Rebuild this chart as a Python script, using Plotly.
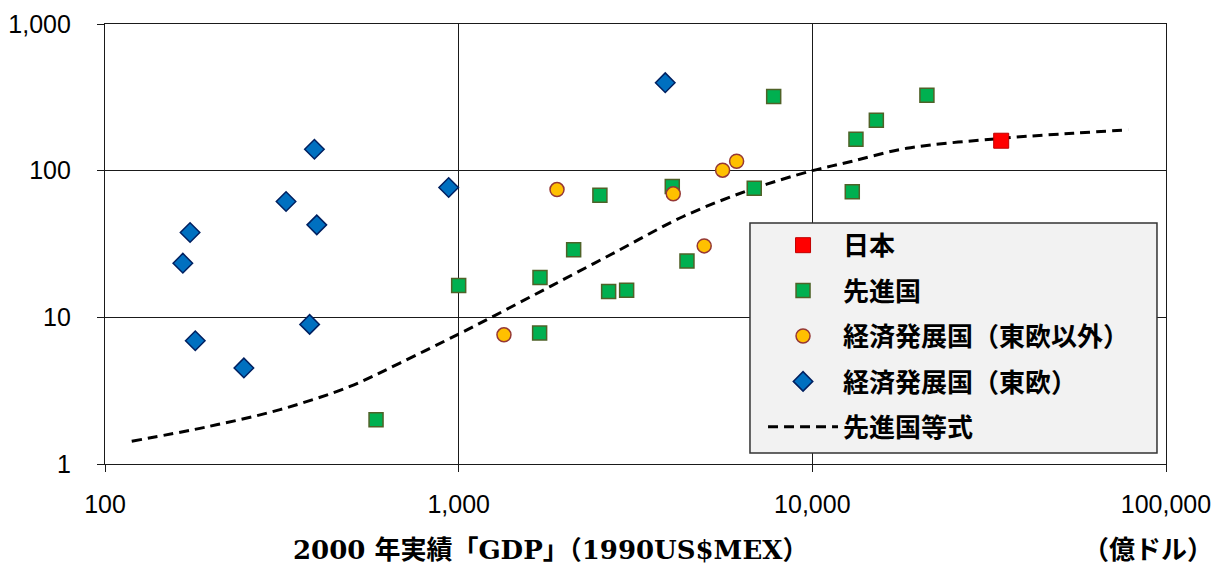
import plotly.graph_objects as go

# ---- data ----
jp_x = [34200]
jp_y = [160]

adv_x = [1000, 584, 7775, 2508, 4018, 6851, 2114, 1698, 4421, 2655, 2985, 1694, 21086, 15170, 13285, 12970]
adv_y = [16.5, 2.0, 320, 68.1, 77.9, 76, 28.9, 18.7, 24.2, 15.0, 15.3, 7.82, 327, 221, 164, 71.7]

dev_x = [1897, 5575, 6108, 4043, 4946, 1343]
dev_y = [74.3, 100.8, 116, 69.5, 30.7, 7.6]

ee_x = [391, 937, 325, 397, 174, 166, 379, 180, 247, 3838]
ee_y = [140, 76.7, 61.6, 42.7, 37.9, 23.4, 8.95, 6.93, 4.52, 398]

curve_x = [119, 193.9, 312.6, 492.8, 682, 1000, 1226, 1812, 2796, 4315, 6661,
           10000, 12790, 18480, 34200, 54640, 78200]
curve_y = [1.43, 1.79, 2.35, 3.38, 4.88, 7.69, 9.89, 16.2, 28.1, 48.7, 74.0,
           100, 115, 142, 166, 180, 190]

x_tickvals = [100, 1000, 10000, 100000]
x_ticktext = ["100", "1,000", "10,000", "100,000"]
y_tickvals = [1, 10, 100, 1000]
y_ticktext = ["1", "10", "100", "1,000"]

names = ["日本", "先進国", "経済発展国（東欧以外）", "経済発展国（東欧）", "先進国等式"]
x_title = "2000 年実績「GDP」（1990US$MEX）"
unit_text = "（億ドル）"

JPFONT = "Noto Sans CJK JP"
TITLEFONT = "DejaVu Serif, Noto Sans CJK JP"
TICKFONT = "Liberation Sans, Arial"

fig = go.Figure()

fig.add_trace(go.Scatter(
    x=curve_x, y=curve_y, mode="lines", name=names[4], legendrank=5, legendgroup="e",
    line=dict(color="black", width=3, dash="10px,6px", shape="spline"),
))
fig.add_trace(go.Scatter(
    x=adv_x, y=adv_y, mode="markers", name=names[1], legendrank=2, legendgroup="b",
    marker=dict(symbol="square", size=14, color="#00b050", line=dict(color="#4f6228", width=1.5)),
))
fig.add_trace(go.Scatter(
    x=dev_x, y=dev_y, mode="markers", name=names[2], legendrank=3, legendgroup="c",
    marker=dict(symbol="circle", size=14, color="#ffc000", line=dict(color="#953735", width=1.5)),
))
fig.add_trace(go.Scatter(
    x=ee_x, y=ee_y, mode="markers", name=names[3], legendrank=4, legendgroup="d",
    marker=dict(symbol="diamond", size=15, color="#0070c0", line=dict(color="#002060", width=1.5)),
))
fig.add_trace(go.Scatter(
    x=jp_x, y=jp_y, mode="markers", name=names[0], legendrank=1, legendgroup="a",
    marker=dict(symbol="square", size=15, color="#ff0000", line=dict(color="#c00000", width=1)),
))

axis_common = dict(
    type="log", showgrid=True, gridcolor="#1a1a1a", gridwidth=1.3,
    showline=True, linecolor="#1a1a1a", linewidth=1.3, mirror=True,
    ticks="outside", ticklen=7, tickcolor="#1a1a1a", tickwidth=1.3,
    tickfont=dict(family=TICKFONT, size=25, color="black"),
    zeroline=False, automargin=False,
)

fig.update_xaxes(range=[2, 5], tickvals=x_tickvals, ticktext=x_ticktext,
                 ticklabelstandoff=11, **axis_common)
fig.update_yaxes(range=[0, 3], tickvals=y_tickvals, ticktext=y_ticktext,
                 ticklabelstandoff=21, **axis_common)

fig.update_layout(
    width=1219, height=566,
    margin=dict(l=105, r=53, t=24, b=102, autoexpand=False),
    plot_bgcolor="white", paper_bgcolor="white",
    showlegend=True,
    legend=dict(
        x=0.6202, y=0.5505, xanchor="left", yanchor="top",
        bgcolor="rgba(0,0,0,0)", borderwidth=0,
        font=dict(family=JPFONT, size=26, color="black", weight="bold"),
        itemwidth=70, tracegroupgap=8.6, traceorder="grouped",
    ),
    shapes=[
        dict(type="rect", xref="paper", yref="paper",
             x0=0.6079, x1=0.9915, y0=0.025, y1=0.5477,
             fillcolor="#f2f2f2", line=dict(color="#333333", width=1.5), layer="above"),
    ],
    annotations=[
        dict(text=x_title, xref="paper", yref="paper", x=0.4195, y=-0.195,
             xanchor="center", yanchor="middle", showarrow=False,
             font=dict(family=TITLEFONT, size=26, color="black", weight="bold")),
        dict(text=unit_text, xref="paper", yref="paper", x=1.046, y=-0.195,
             xanchor="right", yanchor="middle", showarrow=False,
             font=dict(family=TITLEFONT, size=26, color="black", weight="bold")),
    ],
)

fig.write_html("out.html")
